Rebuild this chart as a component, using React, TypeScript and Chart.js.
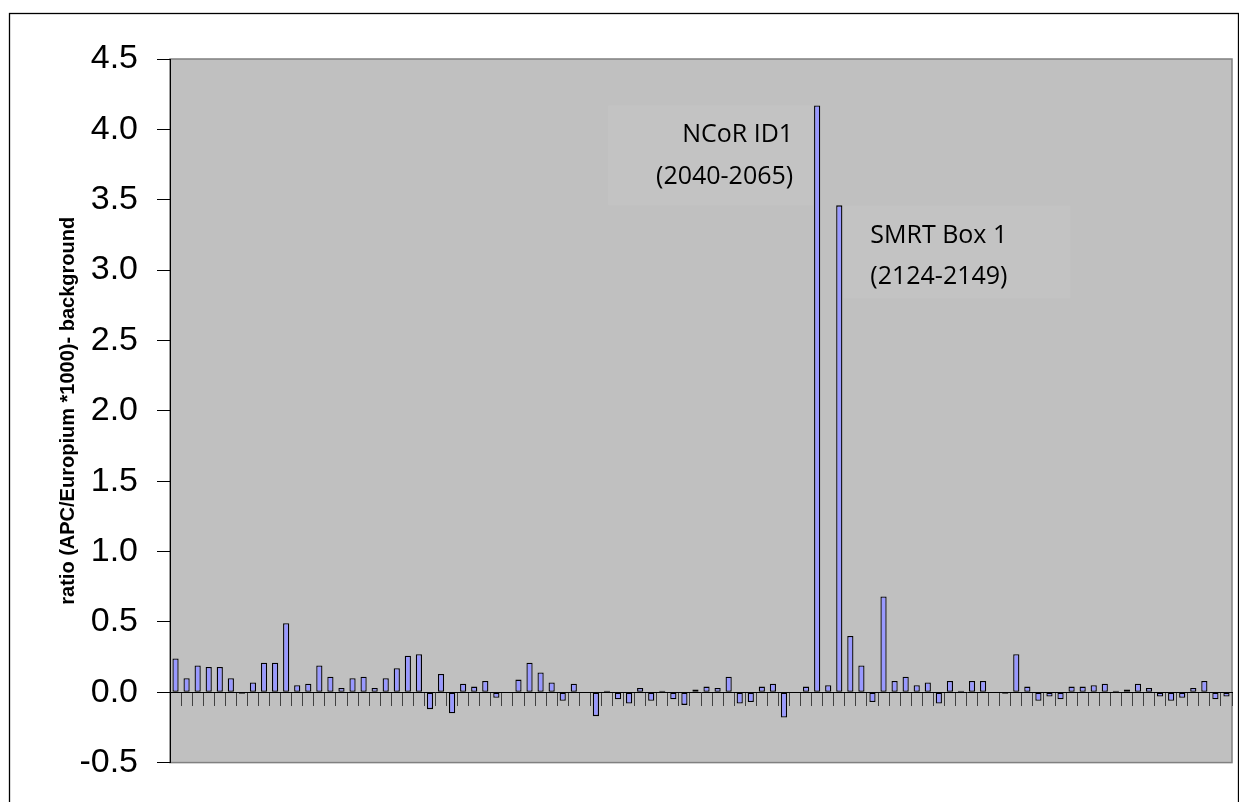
import React, { useEffect, useRef } from "react";
import { Chart, registerables } from "chart.js";

Chart.register(...registerables);

// Measured ratio per peptide (left to right); null = no bar
const values: (number | null)[] = [
  0.24, 0.10, 0.19, 0.18, 0.18, 0.10, -0.01, 0.07, 0.21, 0.21,
  0.49, 0.05, 0.06, 0.19, 0.11, 0.03, 0.10, 0.11, 0.03, 0.10,
  0.17, 0.26, 0.27, -0.12, 0.13, -0.15, 0.06, 0.04, 0.08, -0.04,
  null, 0.09, 0.21, 0.14, 0.07, -0.06, 0.06, null, -0.17, 0.01,
  -0.05, -0.08, 0.03, -0.06, 0.01, -0.05, -0.09, 0.02, 0.04, 0.03,
  0.11, -0.08, -0.07, 0.04, 0.06, -0.18, null, 0.04, 4.17, 0.05,
  3.46, 0.40, 0.19, -0.07, 0.68, 0.08, 0.11, 0.05, 0.07, -0.08,
  0.08, 0.01, 0.08, 0.08, null, -0.01, 0.27, 0.04, -0.06, -0.03,
  -0.05, 0.04, 0.04, 0.05, 0.06, 0.01, 0.02, 0.06, 0.03, -0.03,
  -0.06, -0.04, 0.03, 0.08, -0.05, -0.03,
];

const categories: string[] = values.map((_, i) => `Peptide ${i + 1}`);

const yMin = -0.5;
const yMax = 4.5;
const yStep = 0.5;
const yTitle = "ratio (APC/Europium *1000)- background";

const noteNCoR = ["NCoR ID1", "(2040-2065)"];
const noteNCoRIndex = 58;
const noteSMRT = ["SMRT Box 1", "(2124-2149)"];
const noteSMRTIndex = 60;

const AXIS_FONT = "'Liberation Sans', Arial, Helvetica, sans-serif";
const NOTE_FONT = "'Open Sans', 'Noto Sans', sans-serif";

const framePlugin = {
  id: "framePlugin",
  beforeDraw(chart: any) {
    const { ctx, chartArea: a } = chart;
    ctx.save();
    ctx.fillStyle = "#ffffff";
    ctx.fillRect(0, 0, chart.width, chart.height);
    ctx.strokeStyle = "#000000";
    ctx.lineWidth = 1.3;
    ctx.strokeRect(9.5, 13.5, 1229, 900);
    ctx.fillStyle = "#c0c0c0";
    ctx.fillRect(a.left, a.top, a.right - a.left, a.bottom - a.top);
    ctx.strokeStyle = "#808080";
    ctx.lineWidth = 1.5;
    ctx.strokeRect(a.left, a.top, a.right - a.left, a.bottom - a.top);
    ctx.restore();
  },
  beforeDatasetsDraw(chart: any) {
    const { ctx } = chart;
    const xs = chart.scales.x;
    const ys = chart.scales.y;
    const x1 = xs.getPixelForValue(noteNCoRIndex);
    const x2 = xs.getPixelForValue(noteSMRTIndex);
    const t1 = ys.getPixelForValue(values[noteNCoRIndex] as number);
    const t2 = ys.getPixelForValue(values[noteSMRTIndex] as number);
    ctx.save();
    ctx.fillStyle = "#c3c3c3";
    ctx.fillRect(x1 - 209, t1, 205, t2 - t1);
    ctx.fillRect(x2 + 4, t2, 227, 93);
    ctx.restore();
  },
  afterDatasetsDraw(chart: any) {
    const { ctx } = chart;
    const xs = chart.scales.x;
    const ys = chart.scales.y;
    const x1 = xs.getPixelForValue(noteNCoRIndex);
    const x2 = xs.getPixelForValue(noteSMRTIndex);
    const t1 = ys.getPixelForValue(values[noteNCoRIndex] as number);
    const t2 = ys.getPixelForValue(values[noteSMRTIndex] as number);
    ctx.save();
    ctx.fillStyle = "#000000";
    ctx.font = `25px ${NOTE_FONT}`;
    ctx.textBaseline = "alphabetic";
    ctx.textAlign = "right";
    ctx.fillText(noteNCoR[0], x1 - 24, t1 + 37);
    ctx.fillText(noteNCoR[1], x1 - 24, t1 + 79);
    ctx.textAlign = "left";
    ctx.fillText(noteSMRT[0], x2 + 31, t2 + 38);
    ctx.fillText(noteSMRT[1], x2 + 31, t2 + 79);
    ctx.restore();
  },
};

export default function App() {
  const canvasRef = useRef<HTMLCanvasElement | null>(null);

  useEffect(() => {
    if (!canvasRef.current) return;
    const chart = new Chart(canvasRef.current, {
      type: "bar",
      data: {
        labels: categories,
        datasets: [
          {
            data: values as any,
            backgroundColor: "#9999ff",
            borderColor: "#000000",
            borderWidth: 1.3,
            borderSkipped: false,
            barPercentage: 0.56,
            categoryPercentage: 1,
          },
        ],
      },
      options: {
        responsive: false,
        animation: false,
        events: [],
        layout: { padding: { left: 0, top: 59, right: 7, bottom: 39 } },
        plugins: {
          legend: { display: false },
          tooltip: { enabled: false },
          title: { display: false },
        },
        scales: {
          x: {
            type: "category",
            position: { y: 0 } as any,
            offset: true,
            grid: {
              display: true,
              offset: true,
              drawOnChartArea: false,
              drawTicks: true,
              tickLength: 13,
              color: "#404040",
              lineWidth: 1,
            },
            border: { display: true, color: "#000000", width: 1 },
            ticks: { display: false },
          },
          y: {
            type: "linear",
            min: yMin,
            max: yMax,
            afterFit(scale: any) {
              scale.width = 170;
            },
            ticks: {
              stepSize: yStep,
              padding: 19,
              color: "#000000",
              font: { family: AXIS_FONT, size: 34 },
              callback: (v: any) => Number(v).toFixed(1),
            },
            grid: {
              drawOnChartArea: false,
              drawTicks: true,
              tickLength: 13,
              color: "#000000",
              lineWidth: 1,
            },
            border: { display: true, color: "#000000", width: 1 },
            title: {
              display: true,
              text: yTitle,
              color: "#000000",
              font: { family: AXIS_FONT, size: 20, weight: "bold" },
              padding: { top: 56, bottom: 0 },
            },
          },
        },
      },
      plugins: [framePlugin],
    });
    return () => chart.destroy();
  }, []);

  return (
    <div style={{ position: "fixed", left: 0, top: 0, width: 1239, height: 802 }}>
      <canvas ref={canvasRef} width={1239} height={802} style={{ display: "block" }} />
    </div>
  );
}
